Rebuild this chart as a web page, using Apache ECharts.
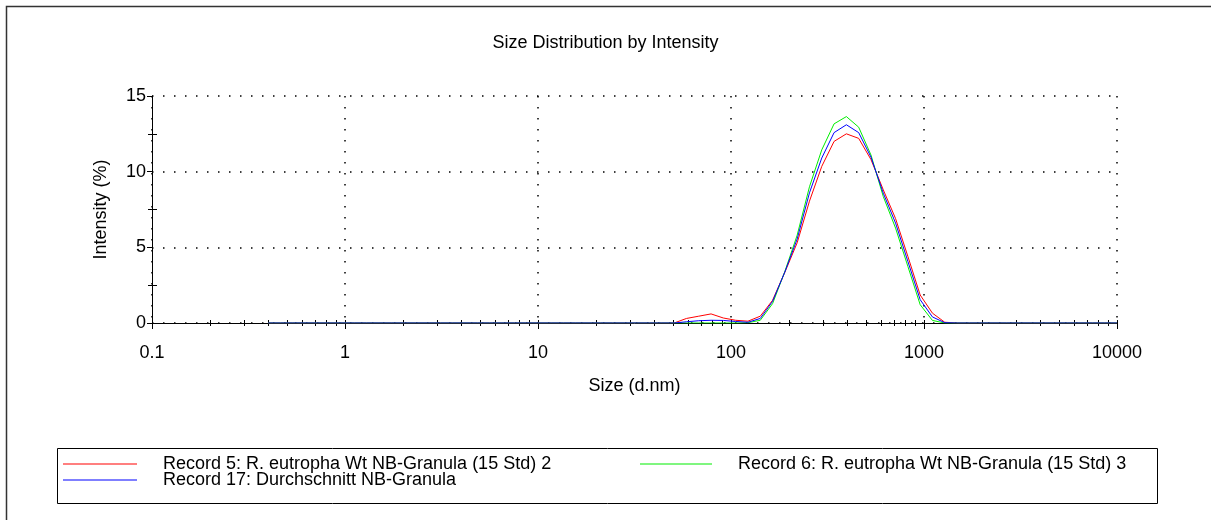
<!DOCTYPE html>
<html>
<head>
<meta charset="utf-8">
<script src="https://cdn.jsdelivr.net/npm/echarts@6/dist/echarts.min.js"></script>
<style>
html,body{margin:0;padding:0;background:#fff;}
#chart{width:1211px;height:520px;}
</style>
</head>
<body>
<div id="chart"></div>
<script>
// Size classes (d.nm)
var sizes = [0.4,0.4632,0.5365,0.6213,0.7195,0.8332,0.9649,1.117,1.294,1.499,1.736,2.01,2.328,2.696,3.122,3.615,4.187,4.849,5.615,6.503,7.531,8.721,10.1,11.7,13.54,15.69,18.17,21.04,24.36,28.21,32.67,37.84,43.82,50.75,58.77,68.06,78.82,91.28,105.7,122.4,141.8,164.2,190.1,220.2,255,295.3,342,396.1,458.7,531.2,615.1,712.4,825,955.4,1106,1281,1484,1718,1990,2305,2669,3091,3580,4145,4801,5560,6439,7456,8635,10000];

// Intensity (%) per size class
var record5 = [0,0,0,0,0,0,0,0,0,0,0,0,0,0,0,0,0,0,0,0,0,0,0,0,0,0,0,0,0,0,0,0,0,0,0.3,0.45,0.6,0.33,0.18,0.12,0.45,1.5,3.35,5.3,8.05,10.35,12.0,12.5,12.2,10.8,8.8,6.9,4.4,1.85,0.65,0.05,0,0,0,0,0,0,0,0,0,0,0,0,0,0];
var record6 = [0,0,0,0,0,0,0,0,0,0,0,0,0,0,0,0,0,0,0,0,0,0,0,0,0,0,0,0,0,0,0,0,0,0,0,0,0,0,0,0.02,0.18,1.28,3.4,5.8,9.0,11.44,13.16,13.64,12.94,11.1,8.36,6.27,3.74,1.21,0.17,0,0,0,0,0,0,0,0,0,0,0,0,0,0,0];
var record17 = [0,0,0,0,0,0,0,0,0,0,0,0,0,0,0,0,0,0,0,0,0,0,0,0,0,0,0,0,0,0,0,0,0,0,0.08,0.15,0.18,0.17,0.1,0.05,0.3,1.43,3.37,5.55,8.6,10.9,12.58,13.1,12.58,10.96,8.58,6.6,4.07,1.54,0.4,0.02,0,0,0,0,0,0,0,0,0,0,0,0,0,0];

var seriesNames = ['Record 5: R. eutropha Wt NB-Granula (15 Std) 2','Record 6: R. eutropha Wt NB-Granula (15 Std) 3','Record 17: Durchschnitt NB-Granula'];
var xMajorTicks = [0.1,1,10,100,1000,10000];
var xMinorTicks = [0.2,0.3,0.4,0.5,0.6,0.7,0.8,0.9,2,3,4,5,6,7,8,9,20,30,40,50,60,70,80,90,200,300,400,500,600,700,800,900,2000,3000,4000,5000,6000,7000,8000,9000];
var yMinorTicks = [2.5,7.5,12.5];

function pairs(v){ return sizes.map(function(s,i){ return [s, v[i]]; }); }

var FONT = 'Liberation Sans, Arial, sans-serif';
var FS = 18;
var gridRect = {left:152, right:94, top:96, bottom:197};
var dotted = {color:'#000', width:1.5, type:[1.5,9.5]};

var chart = echarts.init(document.getElementById('chart'), null, {renderer:'canvas'});
chart.setOption({
  animation:false,
  backgroundColor:'#fff',
  title:{text:'Size Distribution by Intensity', left:'center', top:29,
    textStyle:{fontFamily:FONT, fontSize:FS, fontWeight:'normal', color:'#000'}},
  grid:[Object.assign({}, gridRect), Object.assign({}, gridRect), Object.assign({}, gridRect)],
  xAxis:[
    {type:'log', logBase:10, min:0.1, max:10000, gridIndex:0,
      name:'Size (d.nm)', nameLocation:'middle', nameGap:54,
      nameTextStyle:{fontFamily:FONT, fontSize:FS, color:'#000'},
      axisLine:{lineStyle:{color:'#000', width:1}},
      axisTick:{show:true, inside:false, length:3, customValues:xMajorTicks.concat(xMinorTicks), lineStyle:{color:'#000'}},
      axisLabel:{fontFamily:FONT, fontSize:FS, color:'#000', margin:21, customValues:xMajorTicks,
        formatter:function(v){ return String(v); }},
      splitLine:{show:false},
      minorTick:{show:false}},
    {type:'log', logBase:10, min:0.1, max:10000, gridIndex:1,
      axisLine:{show:false},
      axisTick:{show:true, inside:true, length:3, customValues:xMajorTicks.concat(xMinorTicks), lineStyle:{color:'#000'}},
      axisLabel:{show:false}, splitLine:{show:false}},
    {type:'log', logBase:10, min:0.1, max:10000, gridIndex:2,
      axisLine:{show:false},
      axisTick:{show:true, inside:false, length:6, customValues:xMajorTicks, lineStyle:{color:'#000'}},
      axisLabel:{show:false}, splitLine:{show:true, lineStyle:dotted}}
  ],
  yAxis:[
    {type:'value', min:0, max:15, interval:5, gridIndex:0,
      name:'Intensity (%)', nameLocation:'middle', nameGap:42,
      nameTextStyle:{fontFamily:FONT, fontSize:FS, color:'#000'},
      axisLine:{show:true, lineStyle:{color:'#000', width:1}},
      axisTick:{show:true, inside:false, length:5, lineStyle:{color:'#000'}},
      axisLabel:{fontFamily:FONT, fontSize:FS, color:'#000', margin:6},
      splitLine:{show:true, lineStyle:dotted}},
    {type:'value', min:0, max:15, interval:5, gridIndex:1,
      axisLine:{show:false},
      axisTick:{show:true, inside:true, length:5, customValues:yMinorTicks, lineStyle:{color:'#000'}},
      axisLabel:{show:false}, splitLine:{show:false}},
    {type:'value', min:0, max:15, interval:5, gridIndex:2,
      axisLine:{show:false},
      axisTick:{show:true, inside:false, length:4, customValues:yMinorTicks, lineStyle:{color:'#000'}},
      axisLabel:{show:false}, splitLine:{show:false}}
  ],
  legend:[
    {data:[seriesNames[0]], left:58, top:450, icon:'rect', itemWidth:74, itemHeight:1, itemGap:0,
      textStyle:{fontFamily:FONT, fontSize:FS, color:'#000', padding:[0,0,0,21]}},
    {data:[seriesNames[1]], left:635, top:450, icon:'rect', itemWidth:72, itemHeight:1, itemGap:0,
      textStyle:{fontFamily:FONT, fontSize:FS, color:'#000', padding:[0,0,0,21]}},
    {data:[seriesNames[2]], left:58, top:466, icon:'rect', itemWidth:74, itemHeight:1, itemGap:0,
      textStyle:{fontFamily:FONT, fontSize:FS, color:'#000', padding:[0,0,0,21]}}
  ],
  graphic:[
    {type:'rect', shape:{x:6.5, y:6.5, width:1300, height:600}, style:{fill:'none', stroke:'#333', lineWidth:1.5}, silent:true},
    {type:'rect', shape:{x:57.5, y:448.5, width:1100, height:55}, style:{fill:'none', stroke:'#000', lineWidth:1}, silent:true, z:-1}
  ],
  series:[
    {name:seriesNames[0], type:'line', xAxisIndex:0, yAxisIndex:0, data:pairs(record5), showSymbol:false, symbol:'none',
      lineStyle:{color:'#ff0000', width:1}, itemStyle:{color:'#ff0000'}, z:3},
    {name:seriesNames[1], type:'line', xAxisIndex:0, yAxisIndex:0, data:pairs(record6), showSymbol:false, symbol:'none',
      lineStyle:{color:'#00ee00', width:1}, itemStyle:{color:'#00ee00'}, z:4},
    {name:seriesNames[2], type:'line', xAxisIndex:0, yAxisIndex:0, data:pairs(record17), showSymbol:false, symbol:'none',
      lineStyle:{color:'#0000ff', width:1}, itemStyle:{color:'#0000ff'}, z:5}
  ]
});
</script>
</body>
</html>
